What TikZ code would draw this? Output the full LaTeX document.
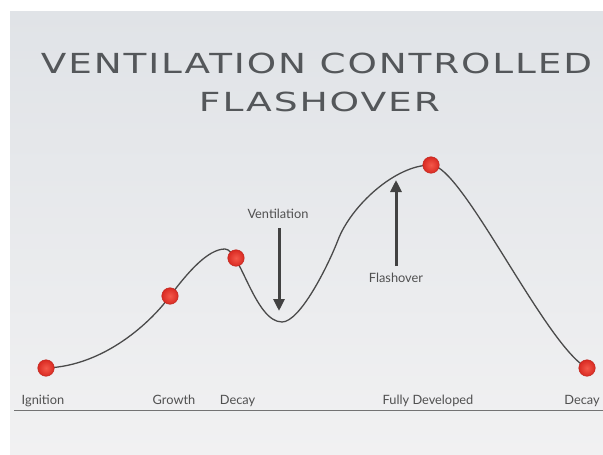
\documentclass[tikz,border=0pt]{standalone}
\usepackage{fontspec}
\setmainfont{Lato}
\newfontfamily\titlefont[LetterSpace=5]{DejaVu Sans}
\usetikzlibrary{arrows.meta,shadings}
\definecolor{bgtop}{HTML}{E0E3E7}
\definecolor{bgbot}{HTML}{F1F1F2}
\definecolor{txtgray}{HTML}{505050}
\definecolor{titlegray}{HTML}{54575A}
\definecolor{curvegray}{HTML}{4A4A4A}
\definecolor{arrowgray}{HTML}{424242}
\definecolor{dotin}{HTML}{F4584A}
\definecolor{dotout}{HTML}{D92A22}
\definecolor{dotedge}{HTML}{C0241C}
\tikzset{
  lbl/.style={font=\fontsize{12.8pt}{15pt}\selectfont, text=txtgray, inner sep=0pt, anchor=base},
  dot/.style={circle, minimum size=16.5pt, inner sep=0pt, shading=radial, inner color=dotin, outer color=dotout, draw=dotedge, line width=0.5pt},
  curve/.style={draw=curvegray, line width=1.3pt},
  bigarrow/.style={draw=arrowgray, line width=3pt, -{Triangle[width=11pt,length=12pt]}},
  ttl/.style={text=titlegray, inner sep=0pt, anchor=north}
}
\begin{document}
\begin{tikzpicture}[x=1pt,y=-1pt]
\useasboundingbox (0,0) rectangle (603,455);
\fill[white] (0,0) rectangle (603,455);
\shade[top color=bgtop, bottom color=bgbot] (10,11) rectangle (603,455);
% title
\node[ttl] (t1) at (316.5,53) {\resizebox{551pt}{20.5pt}{\titlefont VENTILATION CONTROLLED}};
\node[ttl] (t2) at (319.5,92) {\resizebox{241pt}{19.5pt}{\titlefont FLASHOVER}};
% baseline
\coordinate (bl) at (14,410.5);
\coordinate (br) at (603,410.5);
\draw[draw=gray!90!black, line width=1.4pt] (bl) -- (br);
% curve key points
\coordinate (p0) at (46,368);
\coordinate (p1) at (170,296);
\coordinate (p2) at (225,249);
\coordinate (p3) at (282,322);
\coordinate (p4) at (338,240);
\coordinate (p5) at (431,165);
\coordinate (p6) at (587,368);
\draw[curve] (p0) .. controls (105,366) and (152,321) .. (p1)
  .. controls (188,272) and (208,249) .. (p2)
  .. controls (240,249) and (255,322) .. (p3)
  .. controls (300,322) and (328,266) .. (p4)
  .. controls (351,206) and (395,165) .. (p5)
  .. controls (462,165) and (545,345) .. (p6);
% dots
\node[dot] (ign) at (46,368) {};
\node[dot] (gro) at (170,296) {};
\node[dot] (dec) at (236,258) {};
\node[dot] (pk) at (431,165) {};
\node[dot] (dec2) at (587,368) {};
% arrows
\node[lbl] (vent) at (278,218) {Ventilation};
\node[lbl] (flash) at (396,282) {Flashover};
\coordinate (vtail) at (279,228);
\coordinate (vtip) at (279,311);
\coordinate (ftail) at (396,266);
\coordinate (ftip) at (396,180);
\draw[bigarrow] (vtail) -- (vtip);
\draw[bigarrow] (ftail) -- (ftip);
% bottom labels
\node[lbl] (lign) at (43,404) {Ignition};
\node[lbl] (lgro) at (174,404) {Growth};
\node[lbl] (ldec) at (237.5,404) {Decay};
\node[lbl] (lful) at (428,404) {Fully Developed};
\node[lbl] (ldec2) at (582,404) {Decay};
\end{tikzpicture}
\end{document}
